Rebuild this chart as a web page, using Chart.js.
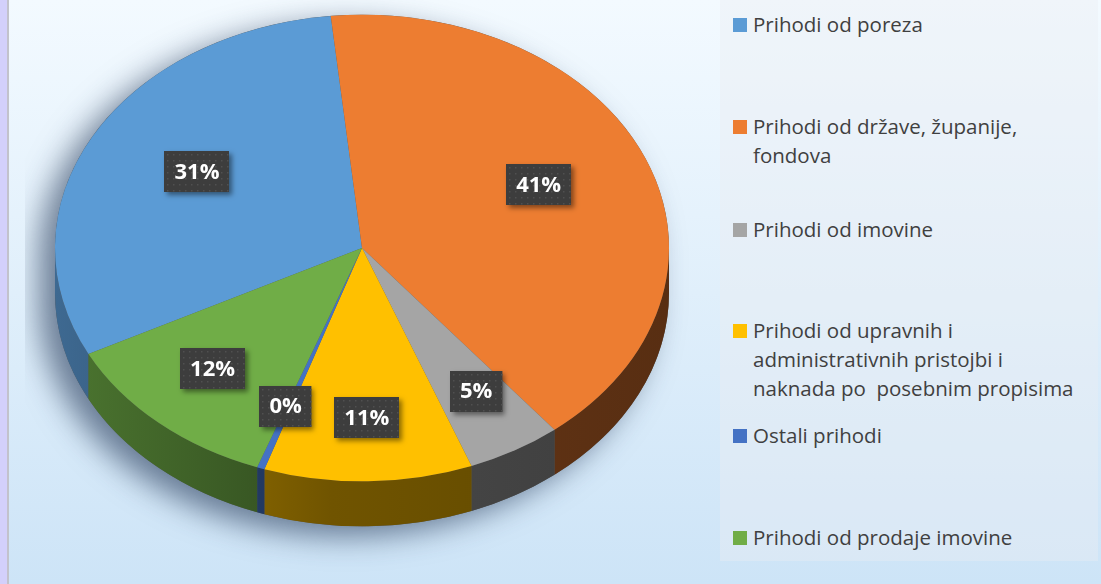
<!DOCTYPE html>
<html lang="hr">
<head>
<meta charset="UTF-8">
<title>Struktura prihoda</title>
<style>
  body { margin: 0; width: 1101px; height: 584px; overflow: hidden; position: relative;
         background: linear-gradient(#f3faff, #cde4f7); font-family: 'Open Sans', sans-serif; }
  .strip { position: absolute; left: 0; top: 0; width: 7px; height: 584px; background: #d3d0fb; border-right: 2px solid #c2c2cc; }
  #pieBox { position: absolute; left: 25px; top: -89px; width: 674px; height: 674px; }
  .legend { position: absolute; left: 720px; top: 0; width: 378px; height: 561px; background: rgba(236,238,242,0.4); }
  .legend .item { position: absolute; left: 13px; right: 0; padding-left: 20px; font-size: 20.5px; line-height: 29px; color: #404040; white-space: pre; }
  .legend .sw { position: absolute; left: 0; top: 8px; width: 14px; height: 14px; }
</style>
<script src="https://cdn.jsdelivr.net/npm/chart.js"></script>
</head>
<body>
<div class="strip"></div>
<div id="pieBox"><canvas id="pieChart" width="674" height="674"></canvas></div>
<div class="legend" id="legend"></div>

<script>
// podaci
const categories = [
  ['Prihodi od poreza'],
  ['Prihodi od države, županije,', 'fondova'],
  ['Prihodi od imovine'],
  ['Prihodi od upravnih i', 'administrativnih pristojbi i', 'naknada po  posebnim propisima'],
  ['Ostali prihodi'],
  ['Prihodi od prodaje imovine']
];
const shares = [31, 41, 5, 11, 0.4, 12];
const colors = ['#5b9bd5', '#ed7d31', '#a5a5a5', '#ffc000', '#4472c4', '#70ad47'];

const TILT = 0.76;   // spljoštenost elipse
const DEPTH = 45;    // visina boka
const legendTops = [10, 112, 215, 316, 421, 523];

function shade(hex, f) {
  const n = parseInt(hex.slice(1), 16);
  const r = Math.round(((n >> 16) & 255) * f), g = Math.round(((n >> 8) & 255) * f), b = Math.round((n & 255) * f);
  return `rgb(${r},${g},${b})`;
}

const total = shares.reduce((a, b) => a + b, 0);

// 3D bok + spljoštenje + oznake
const pie3d = {
  id: 'pie3d',
  beforeDatasetsDraw(chart) {
    const ctx = chart.ctx;
    const arcs = chart.getDatasetMeta(0).data;
    const cx = arcs[0].x, cy = arcs[0].y, r = arcs[0].outerRadius;
    // sjena
    ctx.save();
    ctx.beginPath();
    ctx.ellipse(cx, cy, r, r * TILT, 0, Math.PI, 2 * Math.PI, false);
    ctx.lineTo(cx + r, cy + DEPTH);
    ctx.ellipse(cx, cy + DEPTH, r, r * TILT, 0, 0, Math.PI, false);
    ctx.closePath();
    ctx.shadowColor = 'rgba(45,65,95,0.65)';
    ctx.shadowBlur = 30;
    ctx.shadowOffsetX = -16;
    ctx.shadowOffsetY = 10;
    ctx.fillStyle = '#555';
    ctx.fill();
    ctx.restore();
    // bokovi
    arcs.forEach((arc, i) => {
      const s = arc.startAngle, e = arc.endAngle;
      for (let k = -2; k <= 2; k++) {
        const a = Math.max(s, 2 * Math.PI * k), b = Math.min(e, 2 * Math.PI * k + Math.PI);
        if (b <= a) continue;
        const grad = ctx.createLinearGradient(cx - r, 0, cx + r, 0);
        grad.addColorStop(0, shade(colors[i], 0.68));
        grad.addColorStop(0.45, shade(colors[i], 0.44));
        grad.addColorStop(1, shade(colors[i], 0.37));
        ctx.beginPath();
        ctx.ellipse(cx, cy, r, r * TILT, 0, a, b, false);
        ctx.ellipse(cx, cy + DEPTH, r, r * TILT, 0, b, a, true);
        ctx.closePath();
        ctx.fillStyle = grad;
        ctx.fill();
      }
    });
    ctx.save();
    ctx.translate(cx, cy);
    ctx.scale(1, TILT);
    ctx.translate(-cx, -cy);
  },
  afterDatasetsDraw(chart) {
    const ctx = chart.ctx;
    ctx.restore();
    const arcs = chart.getDatasetMeta(0).data;
    arcs.forEach((arc, i) => {
      const mid = (arc.startAngle + arc.endAngle) / 2;
      const f = 0.66 + 0.1 * Math.sin(mid);
      const px = arc.x + Math.cos(mid) * arc.outerRadius * f;
      const py = arc.y + Math.sin(mid) * arc.outerRadius * f * TILT - 8;
      const txt = Math.round(shares[i] / total * 100) + '%';
      ctx.save();
      ctx.font = "bold 22px 'Open Sans'";
      const w = ctx.measureText(txt).width + 20, h = 41;
      const x0 = Math.round(px - w / 2), y0 = Math.round(py - h / 2);
      ctx.shadowColor = 'rgba(0,0,0,0.45)';
      ctx.shadowBlur = 5;
      ctx.shadowOffsetX = 3;
      ctx.shadowOffsetY = 3;
      ctx.fillStyle = '#3d3d3d';
      ctx.fillRect(x0, y0, w, h);
      ctx.shadowColor = 'transparent';
      ctx.fillStyle = '#505050';
      for (let dx = 3; dx < w - 1; dx += 6) {
        for (let dy = 3; dy < h - 1; dy += 6) ctx.fillRect(x0 + dx, y0 + dy, 1.5, 1.5);
      }
      ctx.fillStyle = '#ffffff';
      ctx.textAlign = 'center';
      ctx.textBaseline = 'middle';
      ctx.fillText(txt, px, py + 1);
      ctx.restore();
    });
  }
};

new Chart(document.getElementById('pieChart'), {
  type: 'pie',
  data: {
    labels: categories.map(c => c.join(' ')),
    datasets: [{ data: shares, backgroundColor: colors, borderWidth: 0 }]
  },
  options: {
    responsive: false,
    animation: false,
    events: [],
    rotation: -117,
    layout: { padding: 30 },
    plugins: { legend: { display: false }, tooltip: { enabled: false } }
  },
  plugins: [pie3d]
});

// legenda
const legend = document.getElementById('legend');
categories.forEach((lines, i) => {
  const item = document.createElement('div');
  item.className = 'item';
  item.style.top = legendTops[i] + 'px';
  const sw = document.createElement('span');
  sw.className = 'sw';
  sw.style.background = colors[i];
  item.appendChild(sw);
  item.appendChild(document.createTextNode(lines.join('\n')));
  legend.appendChild(item);
});
</script>
</body>
</html>
